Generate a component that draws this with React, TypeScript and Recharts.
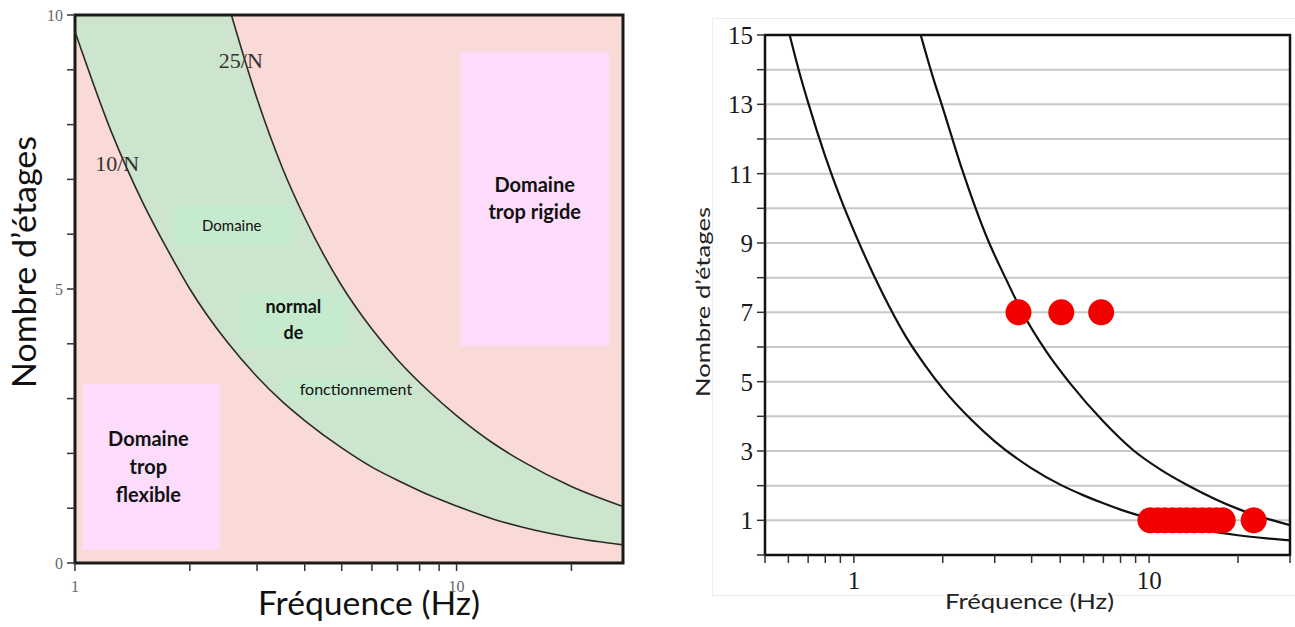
import React from 'react'
import {
  Area,
  CartesianGrid,
  ComposedChart,
  Line,
  ReferenceArea,
  ReferenceDot,
  Scatter,
  XAxis,
  YAxis,
} from 'recharts'

// gauche : domaines 10/N et 25/N
const domainFreq10 = [1, 1.25, 1.5, 1.75, 2, 2.5, 3, 3.5, 4, 5, 6, 7.2, 8.5, 10, 12.5, 15, 20, 27.3]
const domainN10 = [9.7, 7.84, 6.6, 5.71, 5.0, 4.04, 3.4, 2.94, 2.6, 2.1, 1.75, 1.47, 1.235, 1.04, 0.8, 0.647, 0.465, 0.33]
const domainFreq25 = [2.57, 3, 3.5, 4, 5, 6, 7, 8.5, 10, 12.5, 15, 20, 27.3]
const domainN25 = [10, 8.47, 7.2, 6.3, 5.06, 4.27, 3.71, 3.12, 2.69, 2.18, 1.84, 1.395, 1.03]

const leftXTicks = [1, 2, 3, 4, 5, 6, 7, 8, 9, 10, 20]
const leftXLabels = [1, 10]
const leftYTicks = [0, 1, 2, 3, 4, 5, 6, 7, 8, 9, 10]
const leftYLabels = [0, 5, 10]

// droite : bâtiments mesurés
const obsFreq10 = [0.606, 0.65, 0.7, 0.8, 0.9, 1, 1.25, 1.5, 1.75, 2, 2.5, 3, 4, 5, 6, 7, 8, 10, 12, 15, 20, 25, 30]
const obsN10 = [15, 14.0, 13.05, 11.5, 10.3, 9.35, 7.55, 6.3, 5.45, 4.8, 3.9, 3.28, 2.5, 2.03, 1.72, 1.49, 1.31, 1.06, 0.89, 0.73, 0.57, 0.48, 0.42]
const obsFreq25 = [1.684, 1.85, 2.0, 2.33, 2.84, 3.3, 3.72, 4.5, 5.4, 7, 8.9, 11, 13.6, 20, 30]
const obsN25 = [15, 13.8, 12.9, 11.1, 9.1, 7.9, 7.0, 5.85, 4.95, 3.85, 3.0, 2.45, 2.0, 1.33, 0.86]
const storeyFreq = [3.61, 5.04, 6.88, 10.1, 10.7, 11.3, 12, 12.7, 13.4, 14.2, 15.1, 16, 16.9, 17.75, 22.6]
const storeyCount = [7, 7, 7, 1, 1, 1, 1, 1, 1, 1, 1, 1, 1, 1, 1]

const rightXTicks = [0.5, 0.6, 0.7, 0.8, 0.9, 1, 2, 3, 4, 5, 6, 7, 8, 9, 10, 20, 30]
const rightXLabels = [1, 10]
const rightYTicks = [0, 1, 2, 3, 4, 5, 6, 7, 8, 9, 10, 11, 12, 13, 14, 15]
const rightYLabels = [1, 3, 5, 7, 9, 11, 13, 15]

// zones annotées (coordonnées en Hz / étages)
const zones = [
  { x1: 10.24, x2: 25.06, y1: 3.96, y2: 9.33, lines: ['Domaine', 'trop rigide'], size: 20, bold: true, gap: 27, dx: 0, fill: '#fddcfb' },
  { x1: 1.047, x2: 2.4, y1: 0.24, y2: 3.27, lines: ['Domaine', 'trop', 'flexible'], size: 20, bold: true, gap: 28, dx: -3, fill: '#fddcfb' },
  { x1: 1.8, x2: 3.73, y1: 5.77, y2: 6.53, lines: ['Domaine'], size: 15, bold: false, gap: 0, dx: -1, fill: '#c6eace' },
  { x1: 2.71, x2: 5.15, y1: 3.95, y2: 4.92, lines: ['normal', 'de'], size: 18, bold: true, gap: 26, dx: 0, fill: '#c6eace' },
  { x1: 3.51, x2: 6.89, y1: 2.97, y2: 3.38, lines: ['fonctionnement'], size: 16, bold: false, gap: 0, dx: 17, fill: '#c6eace' },
]

const curveTags = [
  { f: 1.29, n: 7.3, text: '10/N' },
  { f: 2.72, n: 9.18, text: '25/N' },
]

const pts = (fs: number[], ns: number[]) => fs.map((f, i) => ({ f, n: ns[i] }))

const bandLow = domainFreq10.map((f, i) => ({ f, band: [domainN10[i], 10] }))
const bandHigh = domainFreq25.map((f, i) => ({ f, band: [domainN25[i], 10] }))
const storeys = pts(storeyFreq, storeyCount)

const PINK = '#fadad6'
const GREEN = '#cde5cc'

const zoneLabel = (z: (typeof zones)[number]) => (props: any) => {
  const vb = props.viewBox || {}
  const cx = vb.x + vb.width / 2 + z.dx
  const top = vb.y + vb.height / 2 - ((z.lines.length - 1) * z.gap) / 2
  return (
    <text textAnchor="middle" fontFamily="Lato" fontSize={z.size} fontWeight={z.bold ? 700 : 400} fill="#111">
      {z.lines.map((l, i) => (
        <tspan key={i} x={cx} y={top + i * z.gap} dy="0.35em">
          {l}
        </tspan>
      ))}
    </text>
  )
}

const tagLabel = (text: string) => (props: any) => {
  const vb = props.viewBox || {}
  const x = vb.x + (vb.width || 0) / 2
  const y = vb.y + (vb.height || 0) / 2
  return (
    <text x={x} y={y} dy="0.35em" textAnchor="middle" fontFamily="Liberation Serif" fontSize={22} fill="#333">
      {text}
    </text>
  )
}

const fmt = (keep: number[]) => (v: number) => (keep.includes(v) ? String(v) : '')

function DomainChart() {
  return (
    <ComposedChart width={640} height={627} margin={{ top: 15, right: 17, bottom: 34, left: 0 }}>
      <CartesianGrid fill={PINK} horizontal={false} vertical={false} />
      <XAxis
        type="number"
        dataKey="f"
        scale="log"
        domain={[1, 27.3]}
        allowDataOverflow
        ticks={leftXTicks}
        interval={0}
        tickFormatter={fmt(leftXLabels)}
        tickSize={8}
        tickMargin={10}
        height={30}
        axisLine={false}
        tickLine={{ stroke: '#333', strokeWidth: 1.5 }}
        tick={{ fontSize: 16, fill: '#666', fontFamily: 'Liberation Serif' }}
        label={{
          content: () => (
            <text x={369} y={615} textAnchor="middle" fontFamily="Lato" fontSize={32} fill="#111" textLength={222} lengthAdjust="spacingAndGlyphs">
              Fréquence (Hz)
            </text>
          ),
        }}
      />
      <YAxis
        type="number"
        dataKey="n"
        domain={[0, 10]}
        allowDataOverflow
        ticks={leftYTicks}
        interval={0}
        tickFormatter={fmt(leftYLabels)}
        tickSize={8}
        tickMargin={4}
        width={75}
        axisLine={false}
        tickLine={{ stroke: '#333', strokeWidth: 1.5 }}
        tick={{ fontSize: 16, fill: '#666', fontFamily: 'Liberation Serif' }}
        label={{
          content: () => (
            <text x={36} y={262} transform="rotate(-90 36 262)" textAnchor="middle" fontFamily="Lato" fontSize={33} fill="#111" textLength={252} lengthAdjust="spacingAndGlyphs">
              Nombre d’étages
            </text>
          ),
        }}
      />
      <Area data={bandLow} dataKey="band" type="monotone" fill={GREEN} fillOpacity={1} stroke="none" isAnimationActive={false} />
      <Area data={bandHigh} dataKey="band" type="monotone" fill={PINK} fillOpacity={1} stroke="none" isAnimationActive={false} />
      <Line data={pts(domainFreq10, domainN10)} dataKey="n" type="monotone" stroke="#2b2b2b" strokeWidth={1.6} dot={false} isAnimationActive={false} />
      <Line data={pts(domainFreq25, domainN25)} dataKey="n" type="monotone" stroke="#2b2b2b" strokeWidth={1.6} dot={false} isAnimationActive={false} />
      {zones.map((z, i) => (
        <ReferenceArea key={i} x1={z.x1} x2={z.x2} y1={z.y1} y2={z.y2} fill={z.fill} fillOpacity={1} stroke="none" label={zoneLabel(z)} />
      ))}
      {curveTags.map((t, i) => (
        <ReferenceDot key={i} x={t.f} y={t.n} r={0} stroke="none" fill="none" label={tagLabel(t.text)} />
      ))}
      <ReferenceArea x1={1} x2={27.3} y1={0} y2={10} fill="none" stroke="#1a1a1a" strokeWidth={3} />
    </ComposedChart>
  )
}

function ObservedChart() {
  return (
    <ComposedChart width={605} height={627} margin={{ top: 35, right: 5, bottom: 42, left: 0 }}>
      <CartesianGrid fill="#fff" vertical={false} stroke="#c8c8c8" strokeWidth={2} />
      <XAxis
        type="number"
        dataKey="f"
        scale="log"
        domain={[0.5, 30]}
        allowDataOverflow
        ticks={rightXTicks}
        interval={0}
        tickFormatter={fmt(rightXLabels)}
        tickSize={8}
        tickMargin={8}
        height={30}
        axisLine={false}
        tickLine={{ stroke: '#333', strokeWidth: 1.5 }}
        tick={{ fontSize: 25, fill: '#1a1a1a', fontFamily: 'Liberation Serif' }}
        label={{
          content: () => (
            <text x={339.5} y={609} textAnchor="middle" fontFamily="Lato" fontSize={21} fill="#222" textLength={169} lengthAdjust="spacingAndGlyphs">
              Fréquence (Hz)
            </text>
          ),
        }}
      />
      <YAxis
        type="number"
        dataKey="n"
        domain={[0, 15]}
        allowDataOverflow
        ticks={rightYTicks}
        interval={0}
        tickFormatter={fmt(rightYLabels)}
        tickSize={8}
        tickMargin={4}
        width={75}
        axisLine={false}
        tickLine={{ stroke: '#333', strokeWidth: 1.5 }}
        tick={{ fontSize: 25, fill: '#1a1a1a', fontFamily: 'Liberation Serif' }}
        label={{
          content: () => (
            <text x={20} y={302} transform="rotate(-90 20 302)" textAnchor="middle" fontFamily="Lato" fontSize={20} fill="#222" textLength={190} lengthAdjust="spacingAndGlyphs">
              Nombre d’étages
            </text>
          ),
        }}
      />
      <Line data={pts(obsFreq10, obsN10)} dataKey="n" type="monotone" stroke="#111" strokeWidth={2.2} dot={false} isAnimationActive={false} />
      <Line data={pts(obsFreq25, obsN25)} dataKey="n" type="monotone" stroke="#111" strokeWidth={2.2} dot={false} isAnimationActive={false} />
      <Scatter
        data={storeys}
        dataKey="n"
        isAnimationActive={false}
        shape={(p: any) => <circle cx={p.cx} cy={p.cy} r={13} fill="#f20000" />}
      />
      <ReferenceArea x1={0.5} x2={30} y1={0} y2={15} fill="none" stroke="#111" strokeWidth={2.5} />
    </ComposedChart>
  )
}

export default function App() {
  return (
    <div style={{ position: 'absolute', left: 0, top: 0, width: 1295, height: 627, background: '#fff', overflow: 'hidden' }}>
      <div style={{ position: 'absolute', left: 0, top: 0 }}>
        <DomainChart />
      </div>
      <div style={{ position: 'absolute', left: 712, top: 18, width: 600, height: 576, border: '1px solid #ececec' }} />
      <div style={{ position: 'absolute', left: 690, top: 0 }}>
        <ObservedChart />
      </div>
    </div>
  )
}
